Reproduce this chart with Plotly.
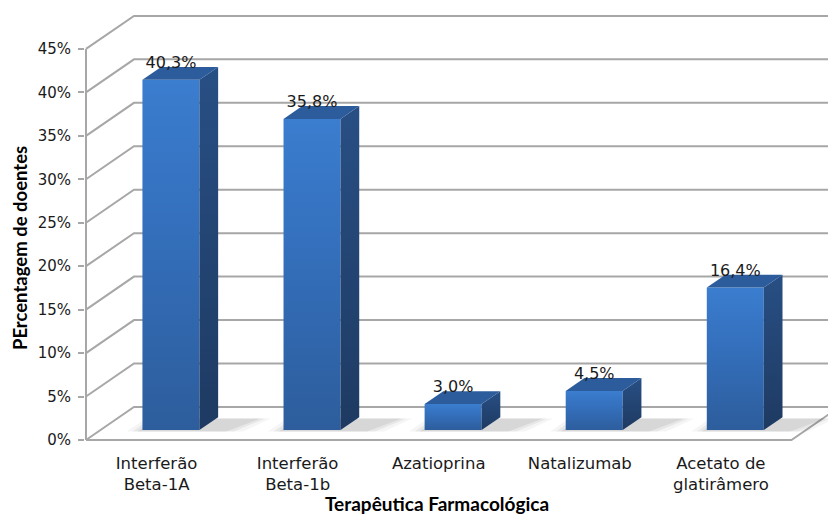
import plotly.graph_objects as go

# Therapy categories and share of patients (%)
categories = ["Interferão<br>Beta-1A", "Interferão<br>Beta-1b", "Azatioprina",
              "Natalizumab", "Acetato de<br>glatirâmero"]
values = [40.3, 35.8, 3.0, 4.5, 16.4]
y_ticks = [0, 5, 10, 15, 20, 25, 30, 35, 40, 45]
y_tick_text = [f"{t}%" for t in y_ticks]

# oblique projection of the depth axis (one full depth unit)
DX = 0.34    # category units
DY = 3.80    # percent units
D0, D1 = 0.30, 0.69   # bar front / back depth
BAR_W = 0.404
X_LEFT, X_RIGHT = -0.5, 4.5

GRID = "#a7a7a7"
fig = go.Figure()

# walls: back gridlines, left side diagonals and front axis line
gx, gy = [], []
for t in y_ticks:
    gx += [X_LEFT, X_LEFT + DX, 6, None]
    gy += [t, t + DY, t + DY, None]
gx += [X_LEFT, X_LEFT, None]
gy += [0, max(y_ticks), None]
# floor front and right edges
gx += [X_LEFT, X_RIGHT, X_RIGHT + DX, None]
gy += [0, 0, DY, None]
fig.add_trace(go.Scatter(x=gx, y=gy, mode="lines", line=dict(color=GRID, width=2),
                         hoverinfo="skip", showlegend=False))

for i, v in enumerate(values):
    xl = i - BAR_W / 2 + D0 * DX
    xr = i + BAR_W / 2 + D0 * DX
    yb = D0 * DY
    yt = v + D0 * DY
    ddx = (D1 - D0) * DX
    ddy = (D1 - D0) * DY

    # soft floor shadow
    for k, a in [(0.11, 0.05), (0.07, 0.07), (0.035, 0.09)]:
        fig.add_trace(go.Scatter(
            x=[xl - k, xr + ddx + k * 1.6, xr + ddx + 2 * ddx + k, xl + ddx - k, xl - k],
            y=[yb - 0.15, yb - 0.15, yb + ddy * 0.9, yb + ddy * 0.9, yb - 0.15],
            mode="lines", line=dict(width=0), fill="toself",
            fillcolor=f"rgba(60,60,60,{a})", hoverinfo="skip", showlegend=False))

    # front face
    fig.add_trace(go.Scatter(
        x=[xl, xr, xr, xl, xl], y=[yb, yb, yt, yt, yb],
        mode="lines", line=dict(width=0), fill="toself",
        fillgradient=dict(type="vertical",
                          colorscale=[[0, "#2d5d9c"], [0.6, "#3470bd"], [1, "#3b7dcf"]]),
        hoverinfo="skip", showlegend=False))
    # side face
    fig.add_trace(go.Scatter(
        x=[xr, xr + ddx, xr + ddx, xr, xr], y=[yb, yb + ddy, yt + ddy, yt, yb],
        mode="lines", line=dict(width=0), fill="toself",
        fillgradient=dict(type="vertical",
                          colorscale=[[0, "#1e3a62"], [1, "#284f84"]]),
        hoverinfo="skip", showlegend=False))
    # top face
    fig.add_trace(go.Scatter(
        x=[xl, xr, xr + ddx, xl + ddx, xl], y=[yt, yt, yt + ddy, yt + ddy, yt],
        mode="lines", line=dict(width=0), fill="toself", fillcolor="#2c5c9c",
        hoverinfo="skip", showlegend=False))

# value labels above the bars
label_x = [i + D0 * DX for i in range(len(values))]
label_y = [v + D1 * DY + 0.35 for v in values]
label_txt = [f"{v:.1f}".replace(".", ",") + "%" for v in values]
fig.add_trace(go.Scatter(
    x=label_x, y=label_y, mode="text", text=label_txt, textposition="middle center",
    textfont=dict(family="DejaVu Sans", size=16, color="#1a1a1a"),
    cliponaxis=False, hoverinfo="skip", showlegend=False))

fig.update_layout(
    width=828, height=515,
    margin=dict(l=85, r=0, t=10, b=73),
    paper_bgcolor="white", plot_bgcolor="white",
    xaxis=dict(range=[-0.507, 4.759], tickvals=list(range(len(categories))),
               ticktext=categories, showgrid=False, zeroline=False, showline=False,
               ticks="", ticklabelstandoff=9,
               tickfont=dict(family="DejaVu Sans", size=16.5, color="#1a1a1a")),
    yaxis=dict(range=[-0.23, 49.48], tickvals=y_ticks, ticktext=y_tick_text,
               showgrid=False, zeroline=False, showline=False,
               ticks="outside", ticklen=6, tickwidth=2, tickcolor=GRID,
               ticklabelstandoff=4,
               tickfont=dict(family="DejaVu Sans", size=15, color="#1a1a1a")),
    annotations=[
        dict(text="PErcentagem de doentes", xref="paper", yref="paper",
             x=0, xshift=-65, y=0.449, xanchor="center", yanchor="middle",
             textangle=-90, showarrow=False,
             font=dict(family="Lato", size=18.5, color="#000000", weight="bold")),
        dict(text="Terapêutica Farmacológica", xref="paper", yref="paper",
             x=0.4738, y=-0.142, xanchor="center", yanchor="middle",
             showarrow=False,
             font=dict(family="Lato", size=19, color="#000000", weight="bold")),
    ],
)

fig.write_html("out.html")
